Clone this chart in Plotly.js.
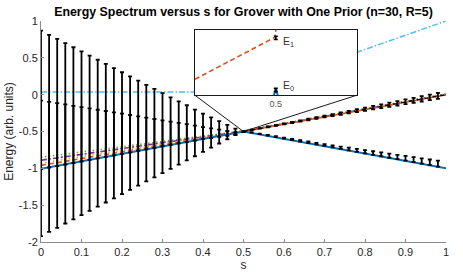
<!DOCTYPE html>
<html>
<head>
<meta charset="utf-8">
<script src="https://cdn.plot.ly/plotly-3.0.1.min.js"></script>
<style>html,body{margin:0;padding:0;background:#fff;}#chart{width:463px;height:275px;}</style>
</head>
<body>
<div id="chart"></div>
<script>
// ---- exact energy levels ----
var sLevels = [0, 0.5, 1];
var E0 = [-1.005, -0.5, -1.0];
var E1 = [-0.96, -0.5, -0.005];
var E2 = [-0.93, -0.497, 0.0];
var E3 = [-0.89, -0.495, 0.005];
var E4 = [-0.85, -0.49, 0.01];
var Emax = [0.035, 0.035, 1.0];
var sE1est = [0.5, 1];
var E1estLine = [-0.5, 0.0];

// ---- estimated energies with error bars ----
var sEst = [0,0.02,0.04,0.06,0.08,0.10,0.12,0.14,0.16,0.18,0.20,0.22,0.24,0.26,0.28,0.30,0.32,0.34,0.36,0.38,0.40,0.42,0.44,0.46,0.48,0.50,
            0.52,0.54,0.56,0.58,0.60,0.62,0.64,0.66,0.68,0.70,0.72,0.74,0.76,0.78,0.80,0.82,0.84,0.86,0.88,0.90,0.92,0.94,0.96,0.98];
var E0est = [-1.000,-0.980,-0.961,-0.941,-0.922,-0.902,-0.882,-0.863,-0.843,-0.824,-0.804,-0.784,-0.765,-0.745,-0.726,-0.706,-0.686,-0.667,-0.647,-0.628,-0.608,-0.588,-0.569,-0.549,-0.530,-0.505,
             -0.513,-0.532,-0.551,-0.570,-0.589,-0.608,-0.627,-0.646,-0.665,-0.684,-0.702,-0.720,-0.738,-0.756,-0.774,-0.792,-0.810,-0.828,-0.846,-0.864,-0.882,-0.900,-0.918,-0.936];
var E0err = [0.920,0.883,0.846,0.808,0.771,0.733,0.696,0.658,0.621,0.583,0.546,0.508,0.471,0.433,0.396,0.358,0.321,0.283,0.246,0.208,0.168,0.130,0.094,0.056,0.020,0.003,
             0.003,0.004,0.005,0.006,0.007,0.008,0.009,0.010,0.011,0.012,0.014,0.016,0.018,0.020,0.022,0.024,0.026,0.028,0.030,0.032,0.034,0.036,0.038,0.040];
var E1est = [-0.070,-0.088,-0.106,-0.124,-0.142,-0.160,-0.178,-0.196,-0.214,-0.232,-0.250,-0.268,-0.286,-0.304,-0.322,-0.340,-0.358,-0.376,-0.394,-0.412,-0.430,-0.448,-0.466,-0.484,-0.502,-0.500,
             -0.477,-0.457,-0.437,-0.417,-0.397,-0.377,-0.357,-0.337,-0.317,-0.297,-0.277,-0.257,-0.237,-0.217,-0.197,-0.177,-0.157,-0.137,-0.117,-0.097,-0.077,-0.057,-0.037,-0.017];
var E1err = [0.940,0.901,0.863,0.824,0.786,0.747,0.708,0.670,0.631,0.593,0.554,0.515,0.477,0.438,0.400,0.361,0.322,0.284,0.250,0.210,0.172,0.140,0.108,0.074,0.040,0.005,
             0.003,0.004,0.005,0.006,0.007,0.008,0.009,0.010,0.011,0.012,0.014,0.016,0.018,0.020,0.022,0.024,0.026,0.028,0.030,0.032,0.034,0.036,0.038,0.040];

// ---- inset (zoom near s = 0.5) ----
var insetXRange = [0.49, 0.51];
var insetYRange = [-0.51, -0.49];
var insetE1s = [0.49, 0.4999, 0.5001];
var insetE1 = [-0.5051, -0.4922, -0.4880];
var insetE0s = [0.4996, 0.5, 0.5004];
var insetE0 = [-0.5115, -0.5079, -0.5115];
var insetEst_s = [0.5, 0.5];
var insetEst = [-0.4924, -0.5084];
var insetEstErr = [0.0005, 0.0005];

// ---- ticks ----
var xTickVals = [0,0.1,0.2,0.3,0.4,0.5,0.6,0.7,0.8,0.9,1];
var xTickText = ['0','0.1','0.2','0.3','0.4','0.5','0.6','0.7','0.8','0.9','1'];
var yTickVals = [-2,-1.5,-1,-0.5,0,0.5,1];
var yTickText = ['-2','-1.5','-1','-0.5','0','0.5','1'];

var C = {blue:'#0072BD', orange:'#D95319', yellow:'#EDB120', purple:'#7E2F8E', green:'#77AC30', cyan:'#4DBEEE'};

var traces = [
  {x:sLevels, y:Emax, mode:'lines', line:{color:C.cyan, width:1.5, dash:'6px,2px,1.5px,2px'}},
  {x:sLevels, y:E4, mode:'lines', line:{color:C.green, width:1.6, dash:'1.5px,2.5px'}},
  {x:sLevels, y:E3, mode:'lines', line:{color:C.purple, width:1.6, dash:'6px,2px,2px,2px'}},
  {x:sLevels, y:E2, mode:'lines', line:{color:C.yellow, width:1.6, dash:'1.5px,2.5px'}},
  {x:sLevels, y:E1, mode:'lines', line:{color:C.orange, width:1.6, dash:'5px,3px'}},
  {x:sLevels, y:E0, mode:'lines', line:{color:C.blue, width:2}},
  {x:sE1est, y:E1estLine, mode:'lines', line:{color:'#000', width:1.4, dash:'4px,4px'}},
  {x:sEst, y:E0est, mode:'markers', marker:{color:'#000', size:1},
   error_y:{type:'data', array:E0err, visible:true, color:'#000', thickness:1.8, width:2}},
  {x:sEst, y:E1est, mode:'markers', marker:{color:'#000', size:1},
   error_y:{type:'data', array:E1err, visible:true, color:'#000', thickness:1.8, width:2}},
  // inset
  {x:insetE1s, y:insetE1, xaxis:'x2', yaxis:'y2', mode:'lines', line:{color:C.orange, width:1.6, dash:'5px,3px'}},
  {x:insetE0s, y:insetE0, xaxis:'x2', yaxis:'y2', mode:'lines', line:{color:C.blue, width:2}},
  {x:insetEst_s, y:insetEst, xaxis:'x2', yaxis:'y2', mode:'markers', marker:{color:'#000', size:1},
   error_y:{type:'data', array:insetEstErr, visible:true, color:'#000', thickness:1.6, width:2}}
];

var axColor = '#262626';
var insetDomX = [0.380, 0.7795];
var insetDomY = [0.664, 0.959];
var mainXRange = [0, 1];
var mainYRange = [-2, 1];

function toMainX(p){ return mainXRange[0] + p*(mainXRange[1]-mainXRange[0]); }
function toMainY(p){ return mainYRange[0] + p*(mainYRange[1]-mainYRange[0]); }
var zoomCx = (insetXRange[0]+insetXRange[1])/2;
var zoomCy = (insetYRange[0]+insetYRange[1])/2;

var layout = {
  width:463, height:275,
  margin:{l:41, r:17, t:21, b:33},
  paper_bgcolor:'#fff', plot_bgcolor:'#fff',
  showlegend:false,
  font:{family:'"Liberation Sans", Arial, sans-serif', color:axColor},
  title:{text:'<b>Energy Spectrum versus s for Grover with One Prior (n=30, R=5)</b>',
         font:{size:12.4, color:'#000'}, x:0.5, xref:'paper', xanchor:'center', y:0.957, yanchor:'middle'},
  xaxis:{range:mainXRange, tickvals:xTickVals, ticktext:xTickText, ticks:'inside', ticklen:3, tickcolor:'#8c8c8c',
         showline:true, linecolor:'#8c8c8c', linewidth:1, showgrid:false, zeroline:false,
         tickfont:{size:11, color:axColor}, title:{text:'s', font:{size:12, color:axColor}, standoff:1}},
  yaxis:{range:mainYRange, tickvals:yTickVals, ticktext:yTickText, ticks:'inside', ticklen:3, tickcolor:'#8c8c8c',
         showline:true, linecolor:'#8c8c8c', linewidth:1, showgrid:false, zeroline:false,
         tickfont:{size:11, color:axColor}, title:{text:'Energy (arb. units)', font:{size:12, color:axColor}, standoff:2}},
  xaxis2:{domain:insetDomX, anchor:'y2', range:insetXRange, tickvals:[0.5], ticktext:['0.5'], ticks:'',
          showline:true, mirror:true, linecolor:'#1a1a1a', linewidth:1.2, showgrid:false, zeroline:false,
          tickfont:{size:9, color:'#555'}},
  yaxis2:{domain:insetDomY, anchor:'x2', range:insetYRange, showticklabels:false, ticks:'',
          showline:true, mirror:true, linecolor:'#1a1a1a', linewidth:1.2, showgrid:false, zeroline:false},
  annotations:[
    {xref:'x2', yref:'y2', x:0.5007, y:-0.4938, text:'E<sub>1</sub>', showarrow:false, xanchor:'left', yanchor:'middle',
     font:{size:10.5, color:'#333'}},
    {xref:'x2', yref:'y2', x:0.5007, y:-0.5071, text:'E<sub>0</sub>', showarrow:false, xanchor:'left', yanchor:'middle',
     font:{size:10.5, color:'#333'}}
  ],
  shapes:[
    {type:'line', xref:'x', yref:'y', x0:toMainX(insetDomX[0]), y0:toMainY(insetDomY[0]), x1:zoomCx, y1:zoomCy,
     line:{color:'#1a1a1a', width:1}},
    {type:'line', xref:'x', yref:'y', x0:toMainX(insetDomX[1]), y0:toMainY(insetDomY[0]), x1:zoomCx, y1:zoomCy,
     line:{color:'#1a1a1a', width:1}}
  ]
};

Plotly.newPlot('chart', traces, layout, {staticPlot:true, displayModeBar:false});
</script>
</body>
</html>
